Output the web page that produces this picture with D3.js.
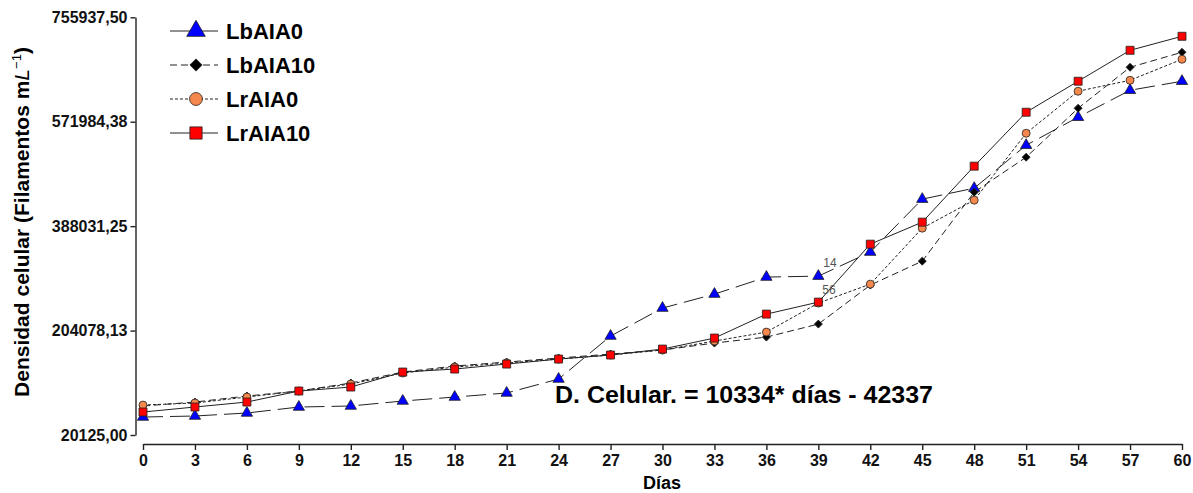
<!DOCTYPE html>
<html>
<head>
<meta charset="utf-8">
<script src="https://cdn.jsdelivr.net/npm/d3@7"></script>
<style>
  body { margin: 0; background: #fff; }
  text { font-family: Arial, 'Liberation Sans', sans-serif; }
</style>
</head>
<body>
<div id="chart"></div>
<script>
let days = [0, 3, 6, 9, 12, 15, 18, 21, 24, 27, 30, 33, 36, 39, 42, 45, 48, 51, 54, 57, 60]

let lbAIA0 = [51800, 53600, 58900, 69400, 71200, 80000, 87000, 94100, 118700, 194400, 243700,
  268300, 298300, 300000, 342300, 435600, 454900, 530600, 579900, 627400, 643300]
let lbAIA10 = [71200, 78200, 88800, 97600, 111700, 131000, 141600, 148600, 155700, 162700, 169800,
  182100, 192600, 215500, 284200, 326400, 447900, 509500, 595700, 667900, 694300]
let lrAIA0 = [72900, 76500, 87000, 97600, 109900, 129300, 139800, 146900, 153900, 161000, 169800,
  185600, 201400, 252500, 285900, 384500, 433800, 551700, 625700, 645000, 682000]
let lrAIA10 = [60600, 69400, 78200, 97600, 104600, 131000, 136300, 145100, 153900, 161000, 171500,
  190900, 233100, 254200, 356300, 395100, 493700, 588700, 643300, 697800, 722500]

let yTicks = [20125, 204078.13, 388031.25, 571984.38, 755937.5]

let seriesNames = ['LbAIA0', 'LbAIA10', 'LrAIA0', 'LrAIA10']
let seriesValues = [lbAIA0, lbAIA10, lrAIA0, lrAIA10]

let equation = 'D. Celular. = 10334* días - 42337'

let width = 1193
let height = 493

let svg = d3
  .select('#chart')
  .append('svg')
  .attr('width', width)
  .attr('height', height)

let xPositionScale = d3.scaleLinear().domain([0, 60]).range([143, 1182])
let yPositionScale = d3.scaleLinear().domain([20125, 755937.5]).range([435, 17.3])

// looks of each series
let styles = {
  LbAIA0: { dash: '20,7', symbol: d3.symbolTriangle, size: 55, big: 150, fill: '#0000ff' },
  LbAIA10: { dash: '7,4', symbol: d3.symbolSquare, size: 32, big: 75, fill: '#000000', rotate: 45 },
  LrAIA0: { dash: '3,2', symbol: d3.symbolCircle, size: 50, big: 130, fill: '#f5884c' },
  LrAIA10: { dash: null, symbol: d3.symbolSquare, size: 64, big: 150, fill: '#ff0000' }
}

let series = seriesNames.map((name, i) => {
  return { name: name, points: days.map((d, j) => ({ day: d, value: seriesValues[i][j] })) }
})

let line = d3
  .line()
  .x(d => xPositionScale(d.day))
  .y(d => yPositionScale(d.value))

// lines first, markers on top
svg
  .selectAll('.series-line')
  .data(series)
  .enter()
  .append('path')
  .attr('class', 'series-line')
  .attr('d', d => line(d.points))
  .attr('fill', 'none')
  .attr('stroke', '#222')
  .attr('stroke-width', 1)
  .attr('stroke-dasharray', d => styles[d.name].dash)

series.forEach(s => {
  let st = styles[s.name]
  svg
    .selectAll('.marker-' + s.name)
    .data(s.points)
    .enter()
    .append('path')
    .attr('class', 'marker-' + s.name)
    .attr('d', d3.symbol().type(st.symbol).size(st.size))
    .attr('transform', d => {
      let t = `translate(${xPositionScale(d.day)},${yPositionScale(d.value)})`
      return st.rotate ? t + ` rotate(${st.rotate})` : t
    })
    .attr('fill', st.fill)
    .attr('stroke', '#222')
    .attr('stroke-width', 0.8)
})

// small labels next to day 39
svg.append('text')
  .text('14')
  .attr('x', xPositionScale(39) + 5)
  .attr('y', yPositionScale(lbAIA0[13]) - 9)
  .attr('font-size', 12)
  .attr('fill', '#555')

svg.append('text')
  .text('56')
  .attr('x', xPositionScale(39) + 4)
  .attr('y', yPositionScale(lrAIA10[13]) - 8)
  .attr('font-size', 12)
  .attr('fill', '#555')

// axes
let yAxis = d3
  .axisLeft(yPositionScale)
  .tickValues(yTicks)
  .tickSize(5)
  .tickSizeOuter(0)
  .tickPadding(3)
  .tickFormat(d => d3.format('.2f')(d).replace('.', ','))

svg.append('g')
  .attr('class', 'axis y-axis')
  .attr('transform', 'translate(135.5,0)')
  .call(yAxis)

let xAxis = d3
  .axisBottom(xPositionScale)
  .tickValues(days)
  .tickSize(6)
  .tickSizeOuter(0)
  .tickPadding(5)

svg.append('g')
  .attr('class', 'axis x-axis')
  .attr('transform', 'translate(0,444)')
  .call(xAxis)

svg.selectAll('.axis .domain, .axis line')
  .attr('stroke', '#222')
  .attr('stroke-width', 1.4)

svg.selectAll('.axis text')
  .attr('font-size', 16)
  .attr('font-weight', 'bold')
  .attr('fill', '#111')

svg.append('text')
  .text('Días')
  .attr('x', 662)
  .attr('y', 489)
  .attr('text-anchor', 'middle')
  .attr('font-size', 18)
  .attr('font-weight', 'bold')

let yTitle = svg.append('text')
  .attr('transform', 'translate(29,222) rotate(-90)')
  .attr('text-anchor', 'middle')
  .attr('font-size', 21)
  .attr('font-weight', 'bold')

yTitle.append('tspan').text('Densidad celular (Filamentos m')
yTitle.append('tspan').text('L').attr('font-style', 'italic').attr('font-weight', 'normal')
yTitle.append('tspan').text('−1').attr('font-size', 13).attr('font-weight', 'normal').attr('dy', -8)
yTitle.append('tspan').text(')').attr('dy', 8)

svg.append('text')
  .text(equation)
  .attr('x', 555)
  .attr('y', 403)
  .attr('font-size', 23)
  .attr('font-weight', 'bold')
  .attr('textLength', 378)
  .attr('lengthAdjust', 'spacingAndGlyphs')

// legend
let legend = svg.append('g')
  .attr('transform', 'translate(170,31)')

legend
  .selectAll('.legend-entry')
  .data(seriesNames)
  .enter()
  .append('g')
  .attr('class', 'legend-entry')
  .attr('transform', (d, i) => `translate(0,${i * 34})`)
  .each(function (d) {
    let g = d3.select(this)
    let st = styles[d]
    g.append('line')
      .attr('x1', 0)
      .attr('x2', 48)
      .attr('stroke', '#222')
      .attr('stroke-width', 1)
      .attr('stroke-dasharray', d === 'LbAIA0' ? null : st.dash)
    g.append('path')
      .attr('d', d3.symbol().type(st.symbol).size(st.big))
      .attr('transform', st.rotate ? `translate(26,0) rotate(${st.rotate})` : 'translate(26,0)')
      .attr('fill', st.fill)
      .attr('stroke', '#222')
      .attr('stroke-width', 0.8)
    g.append('text')
      .text(d)
      .attr('x', 56)
      .attr('y', 8)
      .attr('font-size', 22)
      .attr('font-weight', 'bold')
  })
</script>
</body>
</html>
